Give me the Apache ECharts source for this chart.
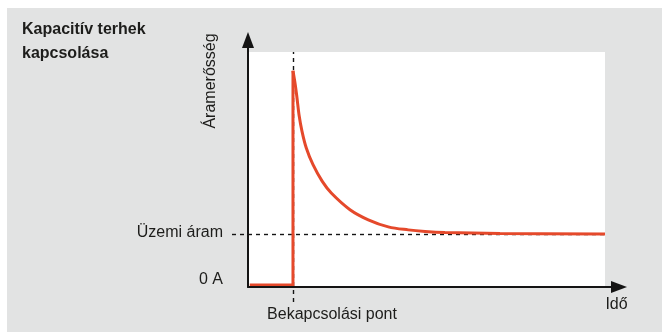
<!DOCTYPE html>
<html><head><meta charset="utf-8">
<script src="https://cdn.jsdelivr.net/npm/echarts@6/dist/echarts.min.js"></script>
<style>
html,body{margin:0;padding:0;background:#fff;}
#bg{position:absolute;left:7px;top:8px;width:655px;height:324px;background:#e2e3e3;}
#chart{position:absolute;left:0;top:0;width:662px;height:333px;}
</style></head><body>
<div id="bg"></div><div id="chart"></div>
<script>
// ---- data ----
const titleLines = ['Kapacitív terhek', 'kapcsolása'];
const yAxisName = 'Áramerősség';
const xAxisName = 'Idő';
const switchLabel = 'Bekapcsolási pont';
const yTickValues = [0, 1];
const yTickLabels = ['0 A', 'Üzemi áram'];
const switchTime = 12.6;
const nominalCurrent = 1;
const offTime = [0.5, 12.6];
const offCurrent = [0, 0];
const curveTime = [12.6, 13.25, 13.73, 14.29, 15.13, 16.33, 18.21, 20.81, 23.33, 28.57, 33.70, 39.30, 44.90, 49.58, 55.18, 70.59, 100];
const curveCurrent = [4.24, 3.96, 3.70, 3.37, 3.04, 2.71, 2.38, 2.05, 1.82, 1.49, 1.29, 1.15, 1.09, 1.06, 1.04, 1.02, 1.01];
// plot (white) area extent in data units
const plotTime = [0, 100];
const plotCurrent = [-0.04, 4.61];

// ---- chart ----
const FONT = '"Liberation Sans", Arial, Helvetica, sans-serif';
const TXT = '#1d1d1b';
const RED = '#e5492b';
const BLK = '#141414';

const stepData = offTime.map((t, i) => [t, offCurrent[i]]);
stepData.push([switchTime, curveCurrent[0]]);
const curveData = curveTime.map((t, i) => [t, curveCurrent[i]]);

const chart = echarts.init(document.getElementById('chart'), null, {renderer: 'canvas'});
chart.setOption({
  animation: false,
  title: {
    text: titleLines.join('\n'),
    left: 22, top: 18, padding: 0,
    textStyle: {fontFamily: FONT, fontSize: 16, fontWeight: 'bold', color: TXT, lineHeight: 23.5}
  },
  grid: [
    {left: 232, right: 57, top: 52, bottom: 31, show: false},
    {left: 248, right: 43, top: 40, bottom: 46, show: false}
  ],
  xAxis: [
    {gridIndex: 0, type: 'value', min: -4.48, max: plotTime[1], show: false},
    {gridIndex: 1, type: 'value', min: 0, max: 1, z: 5,
      axisLine: {show: true, onZero: false, symbol: ['none', 'triangle'], symbolSize: [12, 16], lineStyle: {color: BLK, width: 2}},
      axisTick: {show: false}, axisLabel: {show: false}, splitLine: {show: false}}
  ],
  yAxis: [
    {gridIndex: 0, type: 'value', min: -0.337, max: plotCurrent[1],
      axisLine: {show: false}, axisTick: {show: false}, splitLine: {show: false},
      axisLabel: {
        show: true, customValues: yTickValues, margin: 9,
        fontFamily: FONT, fontSize: 16, color: TXT,
        formatter: function (v) {
          const i = yTickValues.indexOf(v);
          return (i === 0 ? '{a|' : '{b|') + yTickLabels[i] + '}';
        },
        rich: {
          a: {fontFamily: FONT, fontSize: 16, color: TXT, padding: [0, 0, 11, 0]},
          b: {fontFamily: FONT, fontSize: 16, color: TXT, padding: [0, 0, 4, 0]}
        }
      }},
    {gridIndex: 1, type: 'value', min: 0, max: 1, z: 5,
      axisLine: {show: true, onZero: false, symbol: ['none', 'triangle'], symbolSize: [12, 16], lineStyle: {color: BLK, width: 2}},
      axisTick: {show: false}, axisLabel: {show: false}, splitLine: {show: false}}
  ],
  graphic: [
    {type: 'text', x: 211, y: 81, rotation: Math.PI / 2,
      style: {text: yAxisName, fontFamily: FONT, fontSize: 16, fill: TXT, align: 'center', verticalAlign: 'middle'}},
    {type: 'text', x: 616.5, y: 305,
      style: {text: xAxisName, fontFamily: FONT, fontSize: 16, fill: TXT, align: 'center', verticalAlign: 'middle'}},
    {type: 'text', x: 332, y: 314.5,
      style: {text: switchLabel, fontFamily: FONT, fontSize: 16, fill: TXT, align: 'center', verticalAlign: 'middle'}}
  ],
  series: [
    {
      type: 'line', xAxisIndex: 0, yAxisIndex: 0, z: 3,
      data: stepData, showSymbol: false, symbol: 'none',
      lineStyle: {color: RED, width: 3, join: 'miter', cap: 'butt'},
      markArea: {
        z: 1, silent: true, label: {show: false},
        itemStyle: {color: '#ffffff', opacity: 1, borderWidth: 0},
        data: [[{coord: [plotTime[0], plotCurrent[0]]}, {coord: [plotTime[1], plotCurrent[1]]}]]
      },
      markLine: {
        z: 2, silent: true, symbol: ['none', 'none'], label: {show: false},
        lineStyle: {color: BLK, width: 1.4, type: [4, 4]},
        data: [{yAxis: nominalCurrent}, {xAxis: switchTime}]
      }
    },
    {
      type: 'line', xAxisIndex: 0, yAxisIndex: 0, z: 3,
      data: curveData, showSymbol: false, symbol: 'none', smooth: 0.35,
      lineStyle: {color: RED, width: 3, cap: 'butt'}
    }
  ]
});
</script>
</body></html>
